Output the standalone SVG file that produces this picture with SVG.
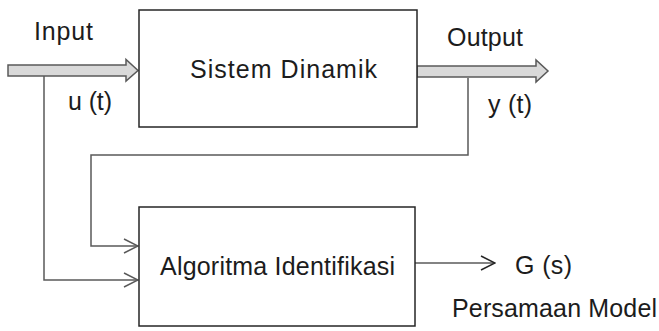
<svg xmlns="http://www.w3.org/2000/svg" width="659" height="331" viewBox="0 0 659 331">
  <style>
    .box { fill: #ffffff; stroke: #262626; stroke-width: 1.5; }
    .wire { fill: none; stroke: #5a5a5a; stroke-width: 1.5; }
    .fat { fill: #d9d9d9; stroke: #595959; stroke-width: 1.5; stroke-linejoin: miter; }
    .lbl { font-family: "Liberation Sans", Arial, sans-serif; font-size: 25px; fill: #1c1c1c; }
  </style>
  <defs>
    <marker id="chev" viewBox="0 0 16 16" refX="15" refY="8" markerWidth="16" markerHeight="16" markerUnits="userSpaceOnUse" orient="auto">
      <path d="M1,1 L15,8 L1,15" fill="none" stroke="#5a5a5a" stroke-width="1.5"/>
    </marker>
    <marker id="chevk" viewBox="0 0 16 16" refX="15" refY="8" markerWidth="16" markerHeight="16" markerUnits="userSpaceOnUse" orient="auto">
      <path d="M1,1 L15,8 L1,15" fill="none" stroke="#262626" stroke-width="1.5"/>
    </marker>
  </defs>

  <!-- signal wires -->
  <g id="connectors">
    <!-- input u(t) to identification block -->
    <polyline class="wire" points="44,76 44,280 138,280" marker-end="url(#chev)"/>
    <!-- output y(t) fed back to identification block -->
    <polyline class="wire" points="468,78 468,155 91,155 91,246 138,246" marker-end="url(#chev)"/>
    <!-- model result -->
    <line class="wire" x1="415" y1="263" x2="495" y2="263" stroke="#262626" marker-end="url(#chevk)"/>
    <!-- wide input arrow -->
    <path class="fat" d="M8,65 L126,65 L126,59.5 L138,70.5 L126,81 L126,76 L8,76 Z"/>
    <!-- wide output arrow -->
    <path class="fat" d="M417,66 L536,66 L536,60 L548,71 L536,82 L536,77 L417,77 Z"/>
  </g>

  <g id="sistem-dinamik">
    <rect class="box" x="139" y="10" width="278" height="117"/>
    <text class="lbl" x="190" y="78" textLength="187" lengthAdjust="spacing">Sistem Dinamik</text>
  </g>

  <g id="algoritma-identifikasi">
    <rect class="box" x="139" y="207" width="276" height="119"/>
    <text class="lbl" x="160" y="275" textLength="235" lengthAdjust="spacing">Algoritma Identifikasi</text>
  </g>

  <g id="labels">
    <text class="lbl" x="34" y="40" textLength="59" lengthAdjust="spacing">Input</text>
    <text class="lbl" x="68" y="110" textLength="44" lengthAdjust="spacing">u (t)</text>
    <text class="lbl" x="447" y="46" textLength="76" lengthAdjust="spacing">Output</text>
    <text class="lbl" x="488" y="113" textLength="44" lengthAdjust="spacing">y (t)</text>
    <text class="lbl" x="515" y="274" textLength="57" lengthAdjust="spacing">G (s)</text>
    <text class="lbl" x="452" y="317" textLength="205" lengthAdjust="spacing">Persamaan Model</text>
  </g>
</svg>
